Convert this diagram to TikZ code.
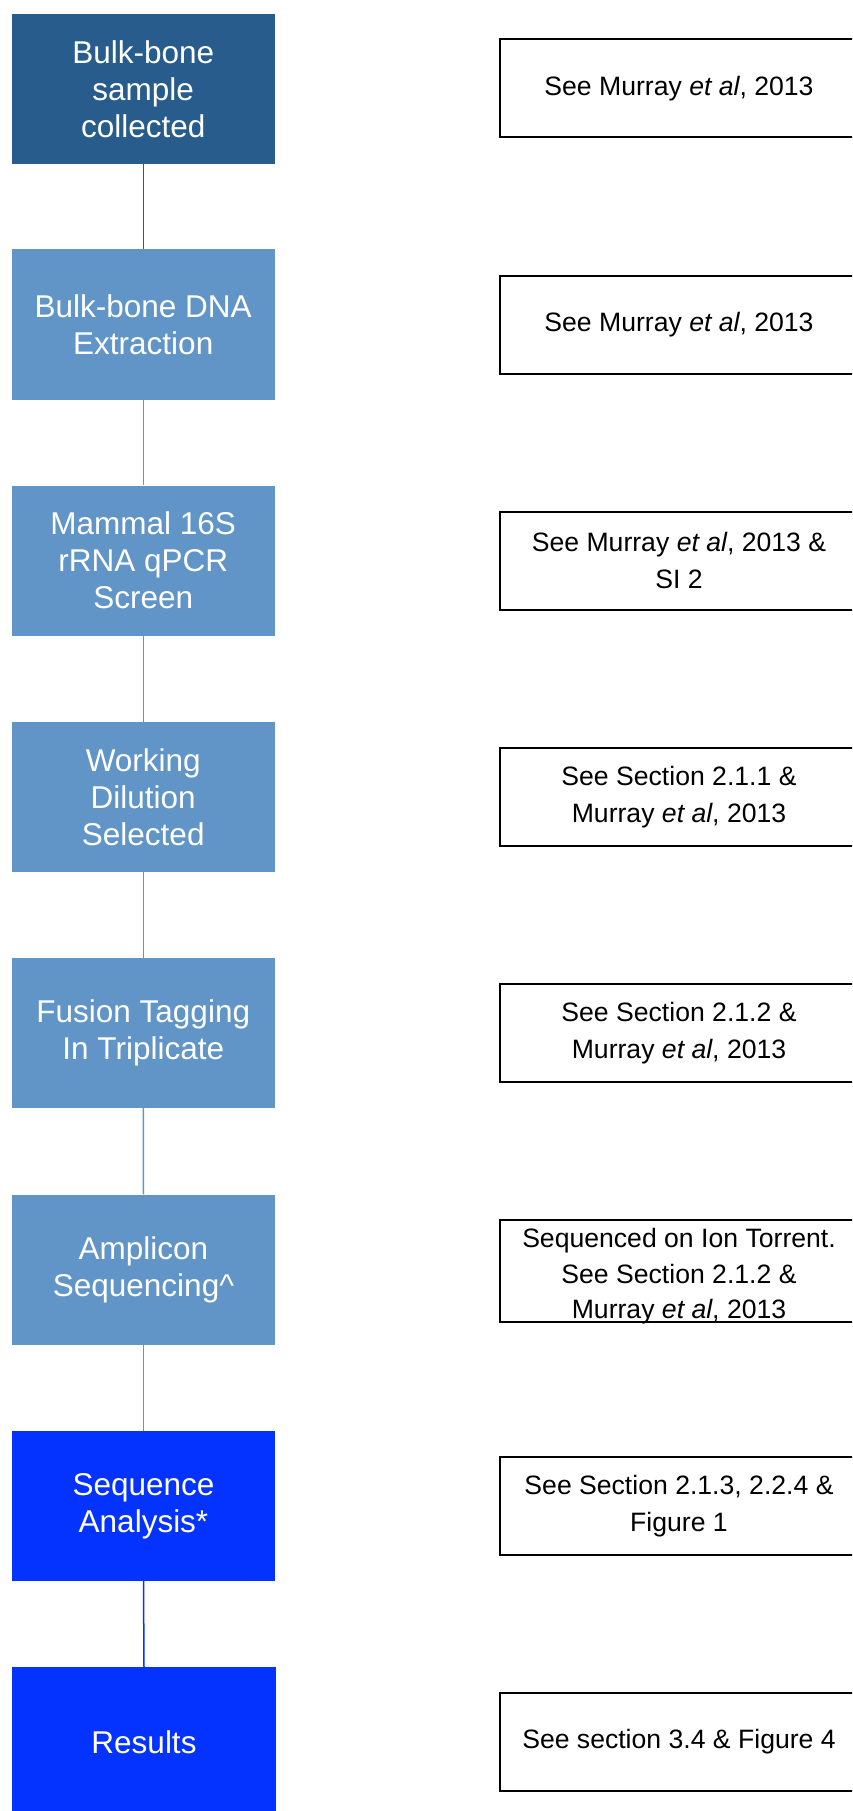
\documentclass[tikz,border=0pt]{standalone}
\usepackage{fontspec}
\setmainfont{Liberation Sans}
\definecolor{darkb}{HTML}{285C8D}
\definecolor{lightb}{HTML}{6195C7}
\definecolor{brightb}{HTML}{0433FF}
\begin{document}
\begin{tikzpicture}[x=1pt,y=-1pt,
  stepbox/.style={rectangle,minimum width=263.5pt,minimum height=150pt,inner sep=0pt,align=center,text=white,font=\fontsize{31.5}{37}\selectfont},
  notebox/.style={rectangle,draw=black,line width=2pt,minimum width=358pt,minimum height=98pt,inner sep=0pt,align=center,font=\fontsize{26.6}{36.5}\selectfont},
  notetext/.style={inner sep=0pt,align=center,font=\fontsize{26.6}{35.6}\selectfont},
  conn/.style={line width=1.5pt}]
\useasboundingbox (0,0) rectangle (852,1811);
\clip (0,0) rectangle (852,1811);
\node[stepbox,fill=darkb] (b1) at (143.25,89) {Bulk-bone\\sample\\collected};
\node[stepbox,fill=lightb] (b2) at (143.25,324.5) {Bulk-bone DNA\\Extraction};
\node[stepbox,fill=lightb] (b3) at (143.25,560.5) {Mammal 16S\\rRNA qPCR\\Screen};
\node[stepbox,fill=lightb] (b4) at (143.25,797) {Working\\Dilution\\Selected};
\node[stepbox,fill=lightb] (b5) at (143.25,1033) {Fusion Tagging\\In Triplicate};
\node[stepbox,fill=lightb] (b6) at (143.5,1269.5) {Amplicon\\Sequencing\^{}};
\node[stepbox,fill=brightb] (b7) at (143.5,1506) {Sequence\\Analysis*};
\node[stepbox,fill=brightb] (b8) at (144,1742) {Results};
\node[notebox] (n1) at (679,88.5) {See Murray \textit{et al}, 2013};
\node[notebox] (n2) at (679,324.5) {See Murray \textit{et al}, 2013};
\node[notebox] (n3) at (679,560.5) {See Murray \textit{et al}, 2013 \&\\SI 2};
\node[notebox] (n4) at (679,797) {See Section 2.1.1 \&\\Murray \textit{et al}, 2013};
\node[notebox] (n5) at (679,1033) {See Section 2.1.2 \&\\Murray \textit{et al}, 2013};
\node[notebox,minimum height=102pt] (n6) at (679,1270.5) {};
\node[notetext] (n6t) at ([yshift=-6pt]n6.center) {Sequenced on Ion Torrent.\\See Section 2.1.2 \&\\Murray \textit{et al}, 2013};
\node[notebox] (n7) at (679,1506) {See Section 2.1.3, 2.2.4 \&\\Figure 1};
\node[notebox] (n8) at (679,1742) {See section 3.4 \& Figure 4};
\draw[conn,darkb] (b1.south) -- (b2.north);
\draw[conn,lightb] (b2.south) -- (b3.north);
\draw[conn,lightb] (b3.south) -- (b4.north);
\draw[conn,lightb] (b4.south) -- (b5.north);
\draw[conn,lightb] (b5.south) -- (b6.north);
\draw[conn,lightb] (b6.south) -- (b7.north);
\draw[conn,brightb] (b7.south) -- (b8.north);
\end{tikzpicture}
\end{document}
